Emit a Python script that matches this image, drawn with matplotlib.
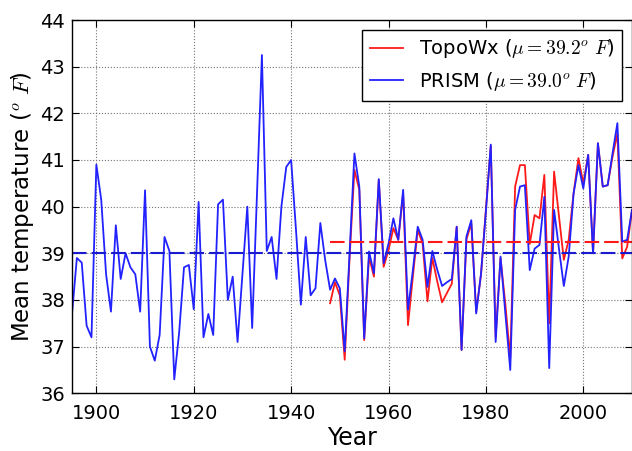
import numpy as np
import matplotlib
matplotlib.use("Agg")
import matplotlib.pyplot as plt

plt.rcParams['font.family'] = ['DejaVu Sans']
plt.rcParams['mathtext.fontset'] = 'cm'

# PRISM annual mean temperature, 1895-2010
prism_years = np.arange(1895, 2011)
prism_temp = [
    37.7, 38.9, 38.8, 37.45, 37.2,
    40.9, 40.15, 38.55, 37.75, 39.6, 38.45, 39.0, 38.7, 38.55, 37.75,
    40.35, 37.0, 36.7, 37.25, 39.35, 39.05, 36.3, 37.3, 38.7, 38.75,
    37.8, 40.1, 37.2, 37.7, 37.25, 40.05, 40.15, 38.0, 38.5, 37.1,
    38.55, 40.0, 37.4, 40.3, 43.25, 39.05, 39.35, 38.45, 40.0, 40.85,
    41.0, 39.5, 37.9, 39.35, 38.1, 38.25, 39.65, 38.85, 38.22, 38.46,
    38.25, 36.9, 39.0, 41.14, 40.43, 37.18, 39.04, 38.57, 40.59, 38.79,
    39.21, 39.75, 39.29, 40.36, 37.79, 38.64, 39.57, 39.29, 38.28, 39.05,
    38.65, 38.3, 38.38, 38.45, 39.57, 36.93, 39.36, 39.71, 37.71, 38.57,
    39.9, 41.33, 37.1, 38.93, 37.7, 36.5, 39.93, 40.43, 40.46, 38.64,
    39.1, 39.18, 40.21, 36.54, 39.93, 39.1, 38.3, 38.93, 40.28, 40.89,
    40.39, 41.11, 39.0, 41.36, 40.43, 40.46, 41.14, 41.79, 39.25, 39.29,
    39.93,
]

# TopoWx annual mean temperature, 1948-2010
topowx_years = np.arange(1948, 2011)
topowx_temp = [
    37.93, 38.38,
    38.1, 36.72, 38.9, 40.79, 40.36, 37.14, 38.93, 38.5, 40.57, 38.71,
    39.07, 39.54, 39.29, 40.29, 37.46, 38.5, 39.5, 39.21, 37.97, 38.9,
    38.4, 37.95, 38.15, 38.35, 39.57, 36.93, 39.3, 39.64, 37.75, 38.55,
    39.95, 41.3, 37.2, 38.9, 37.9, 36.75, 40.43, 40.89, 40.89, 39.2,
    39.82, 39.75, 40.68, 37.5, 40.75, 39.8, 38.86, 39.29, 40.28, 41.04,
    40.5, 41.11, 39.0, 41.36, 40.43, 40.46, 41.07, 41.57, 38.89, 39.14,
    39.93,
]

topowx_mean = 39.25
prism_mean = 39.0

fig = plt.figure(figsize=(6.32, 4.51), dpi=100)
ax = fig.add_axes([72 / 632, 57.7 / 451, 560 / 632, 373.3 / 451])

ax.plot(topowx_years, topowx_temp, color='#ff1a1a', lw=1.3,
        label=r'TopoWx ($\mu=39.2^o\ F$)')
ax.plot(prism_years, prism_temp, color='#2222ff', lw=1.3,
        label=r'PRISM ($\mu=39.0^o\ F$)')

# mean lines
dash = (0, (7, 2.4))
ax.plot([topowx_years[0], topowx_years[-1]], [topowx_mean, topowx_mean],
        color='#ff1a1a', lw=1.5, linestyle=dash)
ax.plot([prism_years[0], prism_years[-1]], [prism_mean, prism_mean],
        color='#1a1ad0', lw=1.5, linestyle=dash)

ax.set_xlim(1895, 2010)
ax.set_ylim(36, 44)
ax.set_xticks(np.arange(1900, 2001, 20))
ax.set_yticks(np.arange(36, 45, 1))
ax.grid(True, color='0.45', linestyle=':', lw=0.8)

ax.tick_params(direction='in', top=True, right=True, length=5,
               labelsize=14, width=0.8)
ax.tick_params(axis='x', pad=8)
ax.tick_params(axis='y', pad=5)
for s in ax.spines.values():
    s.set_linewidth(1.0)

ax.set_xlabel('Year', fontsize=17)
ax.set_ylabel(r'Mean temperature ($^o\ F$)', fontsize=16.5)
ax.xaxis.set_label_coords(0.5, -0.088)
ax.yaxis.set_label_coords(-0.064, 0.5)

leg = ax.legend(loc='upper right', fontsize=14, fancybox=False,
                framealpha=1, edgecolor='k', handlelength=1.7,
                borderaxespad=0.5)
leg.get_frame().set_linewidth(1.0)

fig.savefig('out.png', dpi=100)
